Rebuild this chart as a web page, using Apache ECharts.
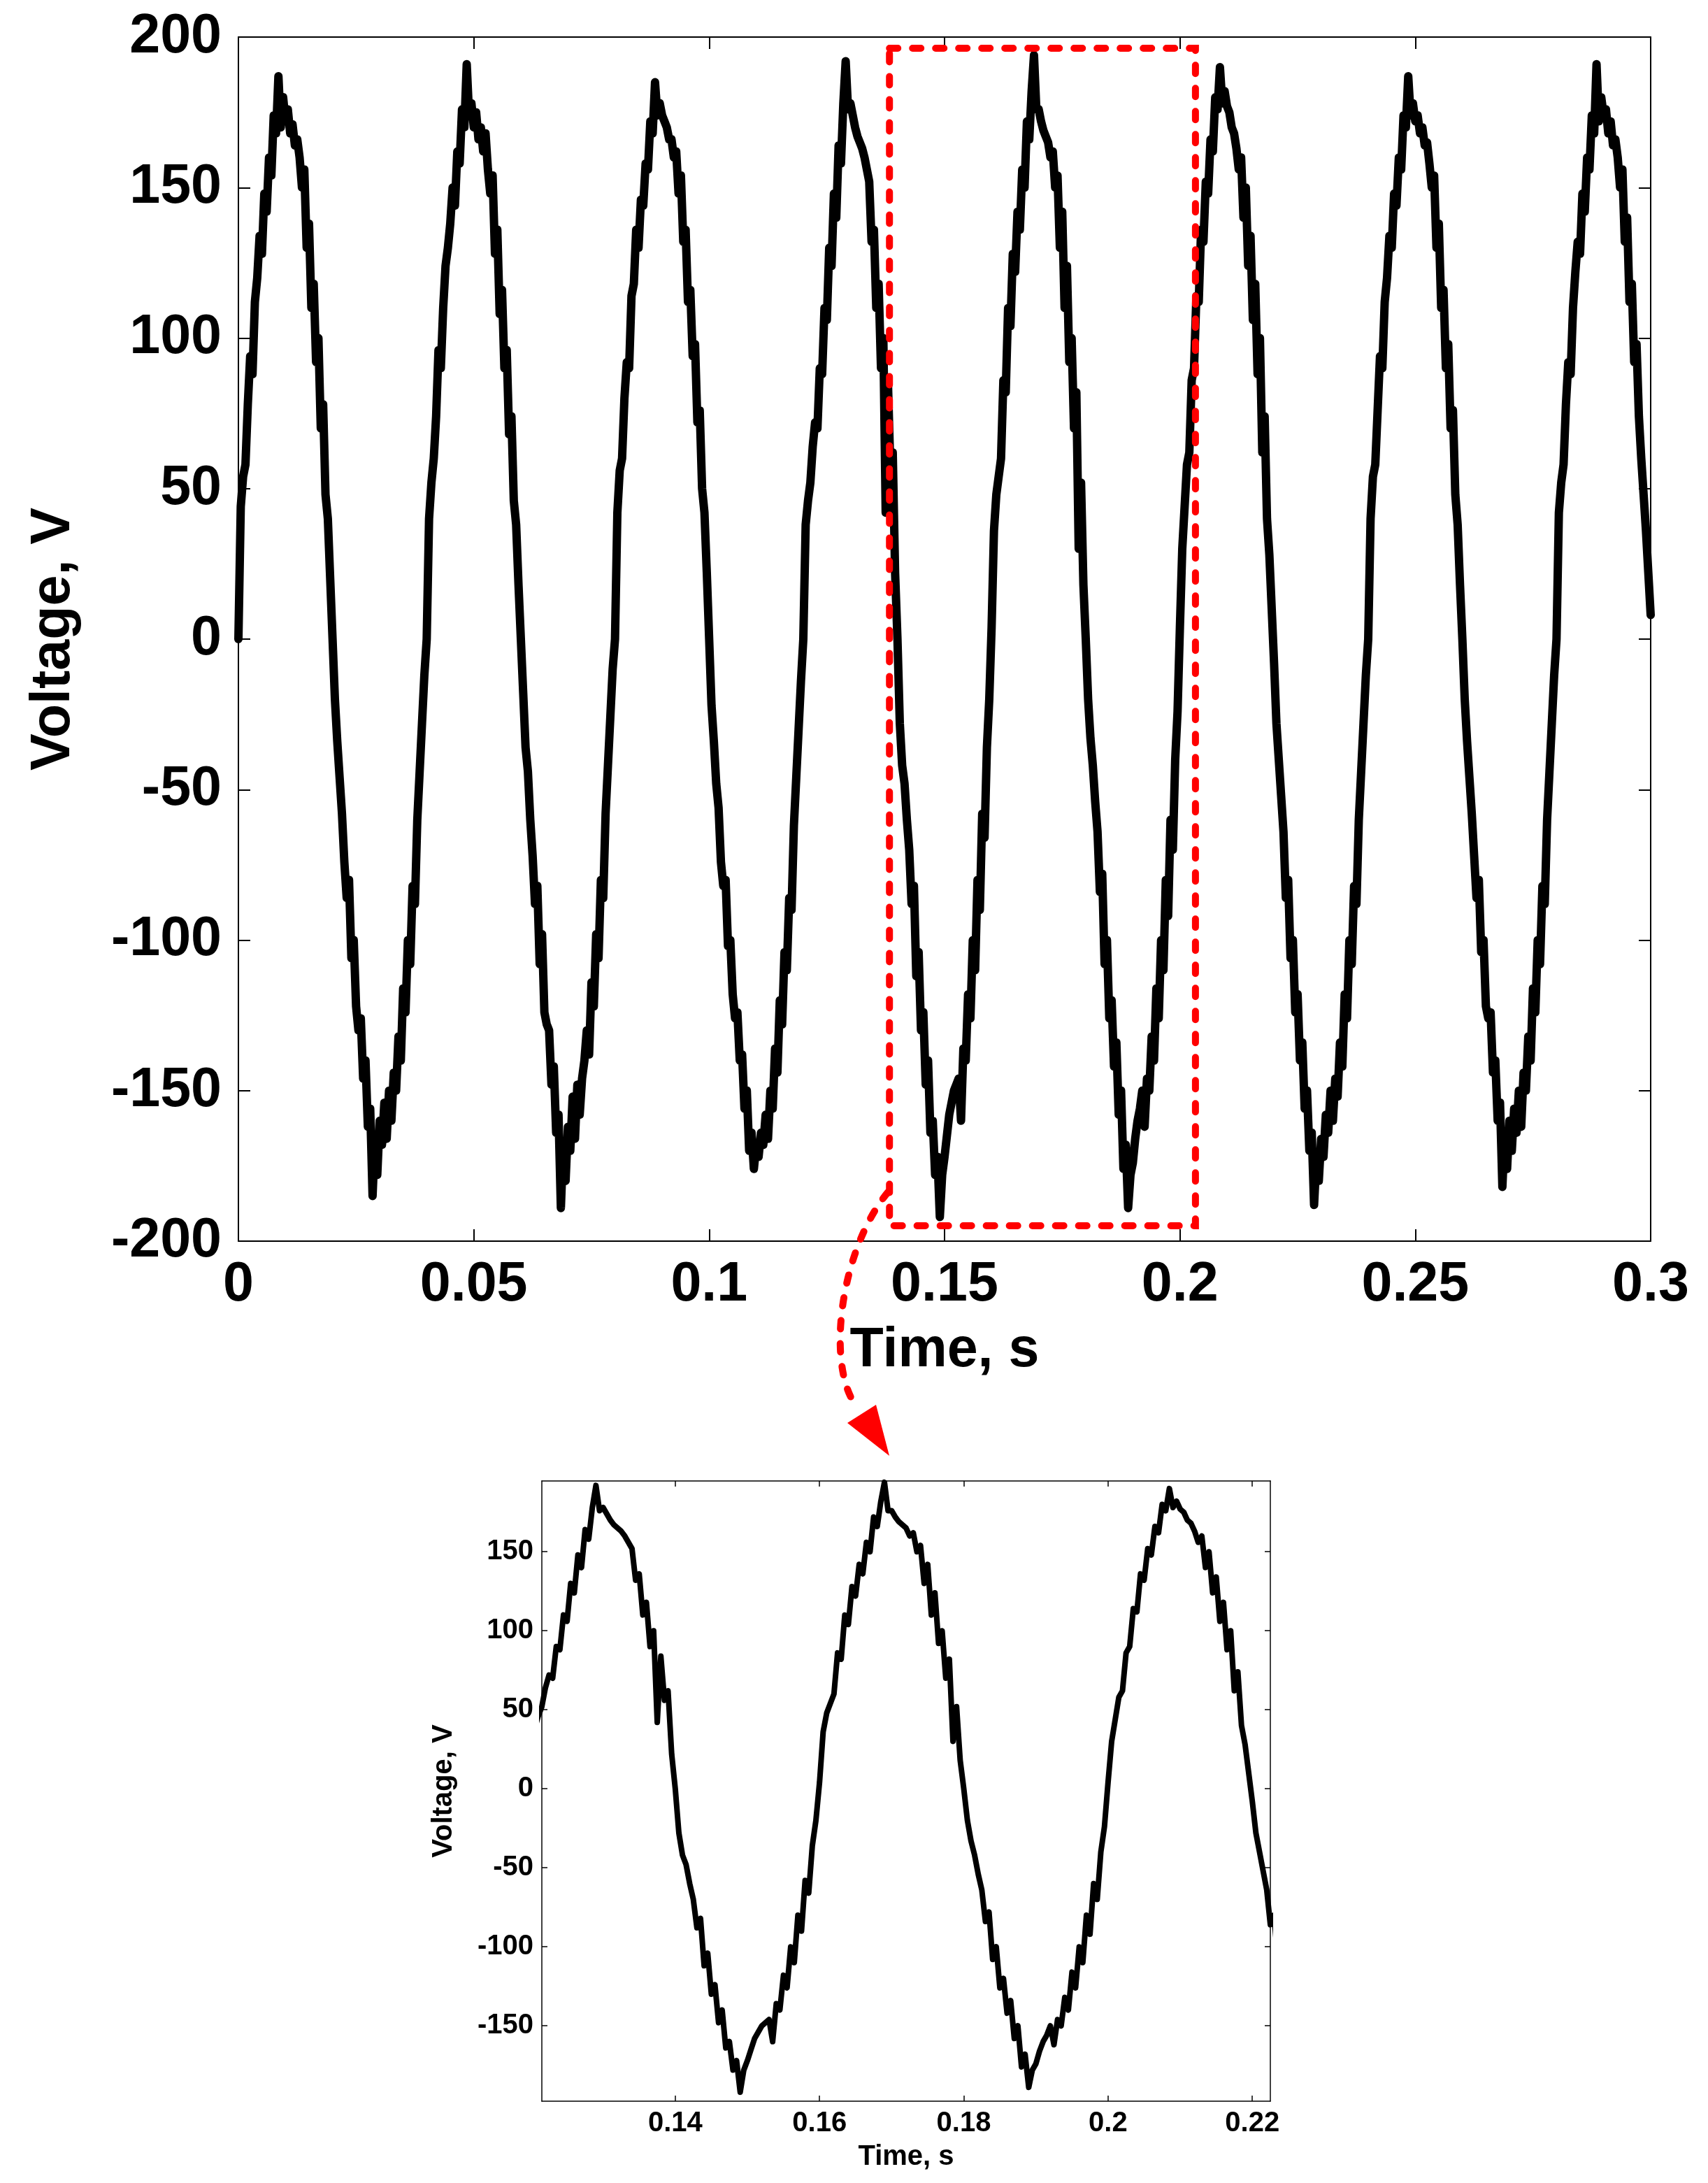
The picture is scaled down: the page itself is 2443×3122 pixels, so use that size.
<!DOCTYPE html>
<html>
<head>
<meta charset="utf-8">
<title>Voltage waveform</title>
<script src="https://cdn.jsdelivr.net/npm/echarts@6.0.0/dist/echarts.min.js"></script>
<style>
  html, body { margin: 0; padding: 0; background: #fff; }
  #chart { width: 2443px; height: 3122px; }
</style>
</head>
<body>
<div id="chart"></div>
<script>
// sample step of the recorded voltage, seconds
const dt = 0.0005;

// one array per 40 ms cycle, values in volts
const cycle1 = [0, 44, 54, 58, 78, 94, 88, 112, 120, 134, 128, 148, 142, 160, 154, 174, 168, 187, 170, 180,
  172, 176, 168, 171, 164, 166, 160, 150, 156, 130, 138, 110, 118, 92, 100, 70, 78, 48, 40, 20,
  0, -20, -34, -46, -58, -74, -86, -80, -106, -100, -122, -130, -126, -146, -140, -162, -156, -185, -166, -178,
  -160, -168, -154, -166, -150, -160, -144, -150, -132, -140, -116, -124, -100, -108, -82, -88, -60, -44, -28, -12];
const cycle2 = [0, 40, 52, 60, 74, 96, 90, 110, 124, 130, 138, 150, 144, 162, 158, 176, 170, 191, 174, 178,
  170, 175, 166, 170, 162, 168, 156, 148, 154, 128, 136, 108, 116, 90, 96, 68, 74, 46, 38, 18,
  0, -18, -36, -44, -60, -72, -88, -82, -108, -98, -124, -128, -130, -148, -142, -164, -158, -189, -168, -180,
  -162, -170, -152, -166, -148, -158, -146, -140, -130, -138, -114, -122, -98, -106, -80, -86, -58, -42, -26, -10];
const cycle3 = [0, 42, 56, 60, 80, 92, 90, 114, 118, 136, 130, 146, 144, 158, 156, 172, 168, 185, 174, 178,
  174, 172, 170, 166, 166, 160, 162, 148, 154, 132, 136, 112, 116, 94, 98, 72, 76, 50, 42, 22,
  0, -22, -34, -48, -56, -74, -82, -80, -102, -100, -118, -126, -124, -140, -138, -156, -150, -170, -164, -176,
  -168, -172, -164, -168, -158, -166, -150, -156, -136, -144, -120, -128, -104, -110, -86, -90, -62, -46, -30, -14];
const cycle4 = [0, 38, 46, 52, 64, 72, 70, 90, 88, 110, 106, 130, 124, 148, 140, 164, 158, 178, 192, 176,
  178, 174, 170, 167, 165, 163, 160, 156, 152, 132, 136, 110, 118, 90, 100, 42, 84, 56, 62, 22,
  0, -28, -42, -48, -60, -70, -88, -82, -112, -104, -130, -124, -148, -140, -164, -160, -178, -172, -192, -178,
  -172, -165, -158, -154, -150, -148, -146, -160, -136, -140, -118, -126, -100, -110, -80, -90, -58, -66, -36, -20];
const cycle5 = [4, 36, 48, 54, 60, 86, 82, 110, 104, 128, 122, 142, 136, 156, 150, 172, 166, 182, 194, 176,
  176, 172, 169, 167, 165, 160, 162, 150, 154, 130, 142, 110, 124, 92, 100, 70, 82, 30, 52, 18,
  0, -20, -33, -42, -54, -64, -84, -78, -108, -100, -126, -120, -142, -134, -158, -150, -176, -168, -189, -178,
  -174, -166, -160, -156, -150, -162, -146, -150, -132, -140, -116, -126, -100, -110, -80, -92, -60, -70, -40, -24];
const cycle6 = [4, 30, 44, 58, 62, 86, 90, 114, 112, 136, 132, 152, 148, 166, 162, 180, 176, 190, 178, 182,
  177, 175, 170, 168, 163, 156, 160, 140, 150, 124, 134, 106, 118, 88, 100, 62, 74, 40, 28, 10,
  -8, -28, -40, -52, -64, -86, -80, -106, -100, -124, -118, -140, -134, -156, -150, -170, -164, -188, -172, -180,
  -166, -172, -158, -164, -150, -160, -146, -152, -134, -142, -118, -126, -100, -108, -82, -88, -60, -44, -28, -12];
const cycle7 = [0, 40, 54, 58, 76, 94, 90, 112, 120, 134, 130, 148, 144, 160, 156, 174, 170, 187, 174, 178,
  172, 174, 168, 170, 164, 165, 158, 150, 154, 130, 138, 110, 116, 90, 98, 70, 76, 48, 38, 18,
  0, -20, -34, -46, -58, -72, -86, -80, -104, -100, -122, -126, -124, -144, -140, -160, -154, -182, -164, -176,
  -160, -170, -156, -164, -150, -162, -144, -150, -132, -140, -116, -124, -100, -108, -82, -88, -60, -44, -28, -12];
// last half cycle, up to t = 0.3 s
const cycle8 = [0, 42, 52, 58, 78, 92, 88, 110, 122, 132, 128, 148, 142, 160, 156, 174, 168, 191, 172, 180,
  174, 176, 168, 172, 164, 166, 160, 150, 156, 132, 140, 112, 118, 92, 98, 74, 60, 48, 36, 22, 8];

const volts = [].concat(cycle1, cycle2, cycle3, cycle4, cycle5, cycle6, cycle7, cycle8);

// axis ticks
const mainTimeTicks = [0, 0.05, 0.1, 0.15, 0.2, 0.25, 0.3];
const mainVoltTicks = [-200, -150, -100, -50, 0, 50, 100, 150, 200];
const zoomTimeTicks = [0.14, 0.16, 0.18, 0.2, 0.22];
const zoomVoltTicks = [-150, -100, -50, 0, 50, 100, 150];

// zoomed window and the box marking it on the main plot
const zoomTimeRange = [0.1215, 0.2225];
const zoomVoltRange = [-197.7, 194.8];
const boxTime = [0.1383, 0.2033];
const boxVolt = [196.3, -194.9];

const points = volts.map((v, i) => [+(i * dt).toFixed(4), v]);

const font = 'Liberation Sans, Arial, Helvetica, sans-serif';
const fmt = v => String(Math.round(v * 1000) / 1000);

function axis(opts, big, mirror, ticks) {
  const fs = big ? 79 : 40;
  return Object.assign({
    type: 'value',
    splitLine: { show: false },
    axisLine: { show: true, onZero: false, lineStyle: { color: '#000', width: big ? 2 : 1.5 } },
    axisTick: {
      show: true, inside: true, length: big ? 17 : 8, customValues: ticks,
      lineStyle: { color: '#000', width: big ? 2 : 1.5 }
    },
    axisLabel: mirror ? { show: false } : {
      color: '#000', fontSize: fs, fontWeight: 'bold', fontFamily: font,
      margin: big ? 24 : 12, formatter: fmt, customValues: ticks
    },
    nameLocation: 'middle',
    nameTextStyle: { color: '#000', fontSize: fs, fontWeight: 'bold', fontFamily: font }
  }, opts);
}

const chart = echarts.init(document.getElementById('chart'), null, { renderer: 'canvas' });

chart.setOption({
  backgroundColor: '#fff',
  animation: false,
  grid: [
    { left: 341, top: 53, width: 2020, height: 1722 },
    { left: 775, top: 2118, width: 1042, height: 887 }
  ],
  xAxis: [
    axis({ gridIndex: 0, position: 'bottom', min: 0, max: 0.3, name: 'Time, s', nameGap: 118 }, true, false, mainTimeTicks),
    axis({ gridIndex: 0, position: 'top', min: 0, max: 0.3 }, true, true, mainTimeTicks),
    axis({ gridIndex: 1, position: 'bottom', min: zoomTimeRange[0], max: zoomTimeRange[1], name: 'Time, s', nameGap: 60 }, false, false, zoomTimeTicks),
    axis({ gridIndex: 1, position: 'top', min: zoomTimeRange[0], max: zoomTimeRange[1] }, false, true, zoomTimeTicks)
  ],
  yAxis: [
    axis({ gridIndex: 0, position: 'left', min: -200, max: 200, name: 'Voltage, V', nameGap: 224 }, true, false, mainVoltTicks),
    axis({ gridIndex: 0, position: 'right', min: -200, max: 200 }, true, true, mainVoltTicks),
    axis({ gridIndex: 1, position: 'left', min: zoomVoltRange[0], max: zoomVoltRange[1], name: 'Voltage, V', nameGap: 120 }, false, false, zoomVoltTicks),
    axis({ gridIndex: 1, position: 'right', min: zoomVoltRange[0], max: zoomVoltRange[1] }, false, true, zoomVoltTicks)
  ],
  series: [
    {
      type: 'line', xAxisIndex: 0, yAxisIndex: 0, data: points,
      showSymbol: false, silent: true, z: 2,
      lineStyle: { color: '#000', width: 12, cap: 'round', join: 'round' }
    },
    {
      type: 'line', xAxisIndex: 0, yAxisIndex: 0, data: [], z: 5, silent: true,
      markArea: {
        silent: true, z: 10,
        itemStyle: { color: 'rgba(0,0,0,0)', borderColor: '#ff0000', borderWidth: 10, borderType: [12, 21], borderCap: 'round' },
        data: [[{ coord: [boxTime[0], boxVolt[0]] }, { coord: [boxTime[1], boxVolt[1]] }]]
      }
    },
    {
      type: 'line', xAxisIndex: 2, yAxisIndex: 2, data: points,
      showSymbol: false, silent: true, clip: true,
      lineStyle: { color: '#000', width: 8, cap: 'round', join: 'round' }
    }
  ],
  graphic: [
    {
      type: 'bezierCurve', silent: true, z: 20,
      shape: { x1: 1270, y1: 1705, cpx1: 1200, cpy1: 1790, cpx2: 1180, cpy2: 1960, x2: 1228, y2: 2015 },
      style: { stroke: '#ff0000', lineWidth: 10, lineDash: [12, 21], lineCap: 'round', fill: null }
    },
    {
      type: 'polygon', silent: true, z: 20,
      shape: { points: [[1212, 2035], [1253, 2009], [1272, 2082]] },
      style: { fill: '#ff0000' }
    }
  ]
});
</script>
</body>
</html>
